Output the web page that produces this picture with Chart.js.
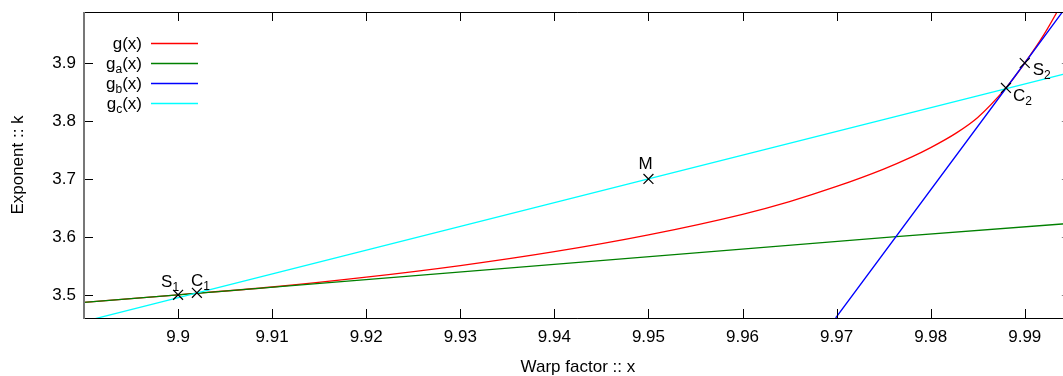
<!DOCTYPE html>
<html>
<head>
<meta charset="utf-8">
<style>
  html, body { margin: 0; padding: 0; background: #fff; overflow: hidden; }
  #wrap { width: 1063px; height: 376px; overflow: hidden; }
</style>
<script src="https://cdn.jsdelivr.net/npm/chart.js@4/dist/chart.umd.min.js"></script>
</head>
<body>
<div id="wrap"><canvas id="myChart" width="1080" height="376"></canvas></div>
<script>
// valeurs
const gX  = [9.89, 9.9, 9.91, 9.92, 9.93, 9.94, 9.95, 9.96, 9.965, 9.97, 9.975, 9.978, 9.98, 9.9827, 9.985, 9.988, 9.99, 9.992, 9.9935, 9.995];
const gK  = [3.487, 3.5, 3.5135, 3.5305, 3.5505, 3.5745, 3.6035, 3.639, 3.661, 3.687, 3.717, 3.738, 3.754, 3.779, 3.806, 3.857, 3.9, 3.948, 3.99, 4.035];
const gaX = [9.89, 9.9, 9.976, 9.995];
const gaK = [3.487, 3.5, 3.6, 3.6235];
const gbX = [9.9699, 9.99, 9.995];
const gbK = [3.46, 3.9, 4.01];
const gcX = [9.89, 9.95, 9.995];
const gcK = [3.454, 3.7, 3.8843];

const markName = ['S', 'C', 'M', 'C', 'S'];
const markSub  = ['1', '1', '', '2', '2'];
const markX    = [9.9, 9.902, 9.95, 9.988, 9.99];
const markK    = [3.5, 3.5035, 3.7, 3.857, 3.9];

const xTicks = [9.9, 9.91, 9.92, 9.93, 9.94, 9.95, 9.96, 9.97, 9.98, 9.99];
const xTickLabels = ['9.9', '9.91', '9.92', '9.93', '9.94', '9.95', '9.96', '9.97', '9.98', '9.99'];
const yTicks = [3.5, 3.6, 3.7, 3.8, 3.9];
const yTickLabels = ['3.5', '3.6', '3.7', '3.8', '3.9'];

const legendMain = ['g', 'g', 'g', 'g'];
const legendSub  = ['', 'a', 'b', 'c'];
const legendColors = ['#ff0000', '#008000', '#0000ff', '#00ffff'];

const FONT = '"Liberation Sans", Arial, sans-serif';

function pts(xs, ys) { return xs.map((x, i) => ({ x: x, y: ys[i] })); }

function lineSet(label, xs, ys, color, smooth) {
    return {
        label: label,
        data: pts(xs, ys),
        borderColor: color,
        backgroundColor: color,
        borderWidth: 1.3,
        pointRadius: 0,
        fill: false,
        cubicInterpolationMode: smooth ? 'monotone' : 'default'
    };
}

// cadre + graduations facon gnuplot
const framePlugin = {
    id: 'frame',
    afterDatasetsDraw(chart) {
        const c = chart.ctx, a = chart.chartArea;
        const xs = chart.scales.x, ys = chart.scales.y;
        c.save();
        c.lineWidth = 1;
        c.strokeStyle = '#000';
        c.beginPath();
        c.moveTo(a.left, a.top + 0.5); c.lineTo(a.right, a.top + 0.5);
        c.moveTo(a.left, a.bottom + 0.5); c.lineTo(a.right, a.bottom + 0.5);
        xTicks.forEach(v => {
            const px = Math.round(xs.getPixelForValue(v)) + 0.5;
            c.moveTo(px, a.bottom); c.lineTo(px, a.bottom - 9);
            c.moveTo(px, a.top); c.lineTo(px, a.top + 9);
        });
        yTicks.forEach(v => {
            const py = Math.round(ys.getPixelForValue(v)) + 0.5;
            c.moveTo(a.left, py); c.lineTo(a.left + 9, py);
        });
        c.stroke();
        c.strokeStyle = '#888';
        c.beginPath();
        yTicks.forEach(v => {
            const py = Math.round(ys.getPixelForValue(v)) + 0.5;
            c.moveTo(a.right, py); c.lineTo(a.right - 10, py);
        });
        c.moveTo(a.right + 0.5, a.top); c.lineTo(a.right + 0.5, a.bottom);
        c.stroke();
        c.strokeStyle = '#777';
        c.lineWidth = 2;
        c.beginPath();
        c.moveTo(a.left, a.top); c.lineTo(a.left, a.bottom + 1);
        c.stroke();
        c.restore();
    }
};

function subText(c, x, y, main, sub, tail) {
    c.font = '17px ' + FONT;
    c.fillText(main, x, y);
    let w = c.measureText(main).width;
    if (sub) {
        c.font = '12px ' + FONT;
        c.fillText(sub, x + w, y + 4);
        w += c.measureText(sub).width;
    }
    if (tail) {
        c.font = '17px ' + FONT;
        c.fillText(tail, x + w, y);
    }
}

function subWidth(c, main, sub, tail) {
    c.font = '17px ' + FONT;
    let w = c.measureText(main + (tail || '')).width;
    if (sub) { c.font = '12px ' + FONT; w += c.measureText(sub).width; }
    return w;
}

const labelPlugin = {
    id: 'labels',
    afterDraw(chart) {
        const c = chart.ctx;
        const meta = chart.getDatasetMeta(0);
        const offs = [[-17, -8], [-6, -7], [-10, -10], [7, 13], [8, 12]];
        c.save();
        c.fillStyle = '#000';
        c.textAlign = 'left';
        c.textBaseline = 'alphabetic';
        meta.data.forEach((p, i) => {
            subText(c, p.x + offs[i][0], p.y + offs[i][1], markName[i], markSub[i], '');
        });
        // légende
        legendMain.forEach((m, i) => {
            const yc = 43 + i * 20;
            const w = subWidth(c, m, legendSub[i], '(x)');
            c.fillStyle = '#000';
            subText(c, 142 - w, yc + 6, m, legendSub[i], '(x)');
            c.strokeStyle = legendColors[i];
            c.lineWidth = 1.3;
            c.beginPath();
            c.moveTo(151, yc + 0.5); c.lineTo(198, yc + 0.5);
            c.stroke();
        });
        c.restore();
    }
};

const ctx = document.getElementById('myChart').getContext('2d');
const myChart = new Chart(ctx, {
    type: 'line',
    data: {
        datasets: [
            {
                label: 'points',
                data: pts(markX, markK),
                showLine: false,
                pointStyle: 'crossRot',
                pointRadius: 7,
                pointBorderWidth: 1.2,
                borderColor: '#000',
                backgroundColor: '#000'
            },
            lineSet('g_c(x)', gcX, gcK, '#00ffff', false),
            lineSet('g_b(x)', gbX, gbK, '#0000ff', false),
            lineSet('g_a(x)', gaX, gaK, '#008000', false),
            lineSet('g(x)', gX, gK, '#ff0000', true)
        ]
    },
    options: {
        responsive: false,
        animation: false,
        layout: { padding: { top: 12, right: 8, left: 0, bottom: 0 } },
        plugins: { legend: { display: false }, tooltip: { enabled: false } },
        scales: {
            x: {
                type: 'linear',
                min: 9.89,
                max: 9.995,
                grid: { display: false, drawTicks: false },
                border: { display: false },
                afterBuildTicks: s => { s.ticks = xTicks.map(v => ({ value: v })); },
                afterFit: s => { s.height = 58; s.paddingLeft = 0; s.paddingRight = 0; },
                ticks: {
                    autoSkip: false,
                    maxRotation: 0,
                    padding: 9,
                    color: '#000',
                    font: { family: FONT, size: 17 },
                    callback: (v, i) => xTickLabels[i]
                },
                title: {
                    display: true,
                    text: 'Warp factor :: x',
                    color: '#000',
                    font: { family: FONT, size: 17, lineHeight: 1 },
                    padding: { top: 0, bottom: 0 }
                }
            },
            y: {
                type: 'linear',
                min: 3.46,
                max: 3.988,
                grid: { display: false, drawTicks: false },
                border: { display: false },
                afterBuildTicks: s => { s.ticks = yTicks.map(v => ({ value: v })); },
                afterFit: s => { s.width = 84; s.paddingTop = 0; s.paddingBottom = 0; },
                ticks: {
                    autoSkip: false,
                    padding: 8,
                    color: '#000',
                    font: { family: FONT, size: 17 },
                    callback: (v, i) => yTickLabels[i]
                },
                title: {
                    display: true,
                    text: 'Exponent :: k',
                    color: '#000',
                    font: { family: FONT, size: 17, lineHeight: 1.2 },
                    padding: { top: 8, bottom: 0 }
                }
            }
        }
    },
    plugins: [framePlugin, labelPlugin]
});
</script>
</body>
</html>
